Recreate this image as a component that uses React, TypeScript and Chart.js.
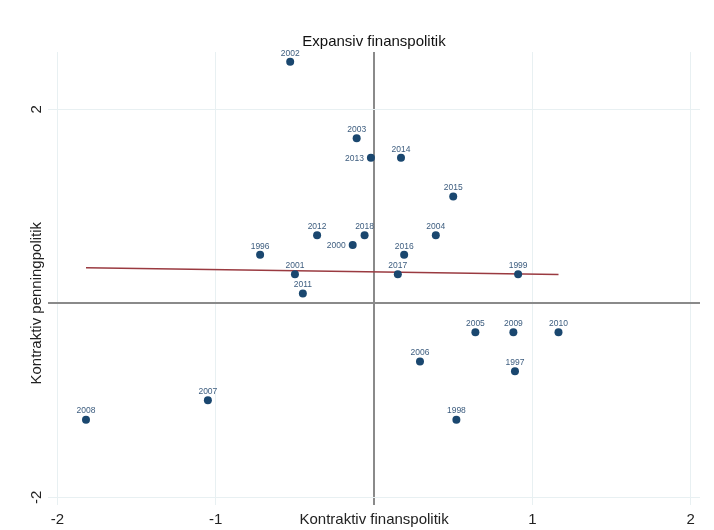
import React, { useEffect, useRef } from "react";
import { Chart, registerables } from "chart.js";

Chart.register(...registerables);

// Data
const years = ["2002", "2003", "2013", "2014", "2015", "2012", "2018", "2004", "2000", "1996", "2016", "2001", "2017", "1999", "2011", "2005", "2009", "2010", "2006", "1997", "1998", "2007", "2008"];
const xValues = [-0.53, -0.11, -0.02, 0.17, 0.5, -0.36, -0.06, 0.39, -0.135, -0.72, 0.19, -0.5, 0.15, 0.91, -0.45, 0.64, 0.88, 1.165, 0.29, 0.89, 0.52, -1.05, -1.82];
const yValues = [2.49, 1.7, 1.5, 1.5, 1.1, 0.7, 0.7, 0.7, 0.6, 0.5, 0.5, 0.3, 0.3, 0.3, 0.1, -0.3, -0.3, -0.3, -0.6, -0.7, -1.2, -1.0, -1.2];
const leftLabelYears = ["2013", "2000"];

const fitX = [-1.82, 1.165];
const fitY = [0.367, 0.295];

const xTickValues = [-2, -1, 0, 1, 2];
const xTickLabels = ["-2", "-1", "Kontraktiv finanspolitik", "1", "2"];
const yTickValues = [-2, 0, 2];
const yTickLabels = ["-2", "Kontraktiv penningpolitik", "2"];
const titleText = "Expansiv finanspolitik";

const FONT = "'Liberation Sans', Arial, sans-serif";
const NAVY = "#1a476f";
const MAROON = "#9a3a40";
const GRID = "#e8f0f2";
const ZERO = "#8a8a8a";

export default function App() {
  const ref = useRef<HTMLCanvasElement | null>(null);

  useEffect(() => {
    const canvas = ref.current;
    if (!canvas) return;

    const labelPlugin = {
      id: "pointLabels",
      afterDatasetsDraw(chart: any) {
        const ctx = chart.ctx;
        const meta = chart.getDatasetMeta(0);
        ctx.save();
        ctx.font = `8.5px ${FONT}`;
        ctx.fillStyle = "#3d5d7f";
        meta.data.forEach((el: any, i: number) => {
          const yr = years[i];
          if (leftLabelYears.includes(yr)) {
            ctx.textAlign = "right";
            ctx.textBaseline = "middle";
            ctx.fillText(yr, el.x - 7, el.y + 0.5);
          } else {
            ctx.textAlign = "center";
            ctx.textBaseline = "middle";
            ctx.fillText(yr, el.x, el.y - 8.5);
          }
        });
        ctx.restore();
      },
    };

    const yLabelPlugin = {
      id: "yRotLabels",
      afterDraw(chart: any) {
        const ctx = chart.ctx;
        const ys = chart.scales.y;
        ctx.save();
        ctx.font = `15px ${FONT}`;
        ctx.fillStyle = "#222";
        ctx.textAlign = "center";
        ctx.textBaseline = "middle";
        yTickValues.forEach((v, i) => {
          const py = ys.getPixelForValue(v);
          ctx.save();
          ctx.translate(37, py);
          ctx.rotate(-Math.PI / 2);
          ctx.fillText(yTickLabels[i], 0, 0);
          ctx.restore();
        });
        ctx.restore();
      },
    };

    const chart = new Chart(canvas, {
      type: "scatter",
      data: {
        datasets: [
          {
            label: "points",
            data: xValues.map((x, i) => ({ x, y: yValues[i] })),
            backgroundColor: NAVY,
            borderWidth: 0,
            pointRadius: 4,
            order: 0,
          },
          {
            label: "fit",
            type: "line",
            data: fitX.map((x, i) => ({ x, y: fitY[i] })),
            borderColor: MAROON,
            borderWidth: 1.5,
            pointRadius: 0,
            fill: false,
            order: 1,
          } as any,
        ],
      },
      options: {
        responsive: false,
        animation: false,
        devicePixelRatio: 1,
        layout: { padding: { top: 33, left: 0, right: 14, bottom: 0 } },
        plugins: {
          legend: { display: false },
          tooltip: { enabled: false },
          title: {
            display: true,
            text: titleText,
            fullSize: false,
            color: "#111",
            font: { family: FONT, size: 15, weight: "normal" },
            padding: { top: 0, bottom: 1 },
          },
        },
        scales: {
          x: {
            type: "linear",
            min: -2.06,
            max: 2.059,
            border: { display: false },
            grid: {
              drawTicks: false,
              color: (c: any) => (c.tick && c.tick.value === 0 ? ZERO : GRID),
              lineWidth: (c: any) => (c.tick && c.tick.value === 0 ? 2 : 1),
            },
            afterBuildTicks: (s: any) => {
              s.ticks = xTickValues.map((v) => ({ value: v }));
            },
            afterFit: (s: any) => {
              s.height = 25;
            },
            ticks: {
              autoSkip: false,
              maxRotation: 0,
              minRotation: 0,
              padding: 6,
              color: "#222",
              font: { family: FONT, size: 15 },
              callback: (v: any) => {
                const idx = xTickValues.indexOf(Number(v));
                return idx >= 0 ? xTickLabels[idx] : "";
              },
            },
          },
          y: {
            type: "linear",
            min: -2.08,
            max: 2.59,
            border: { display: false },
            grid: {
              drawTicks: false,
              color: (c: any) => (c.tick && c.tick.value === 0 ? ZERO : GRID),
              lineWidth: (c: any) => (c.tick && c.tick.value === 0 ? 2 : 1),
            },
            afterBuildTicks: (s: any) => {
              s.ticks = yTickValues.map((v) => ({ value: v }));
            },
            afterFit: (s: any) => {
              s.width = 48;
            },
            ticks: { display: false },
          },
        },
      },
      plugins: [labelPlugin, yLabelPlugin],
    });

    return () => chart.destroy();
  }, []);

  return (
    <canvas
      ref={ref}
      width={714}
      height={530}
      style={{ position: "absolute", left: 0, top: 0, display: "block", background: "#fff" }}
    />
  );
}
